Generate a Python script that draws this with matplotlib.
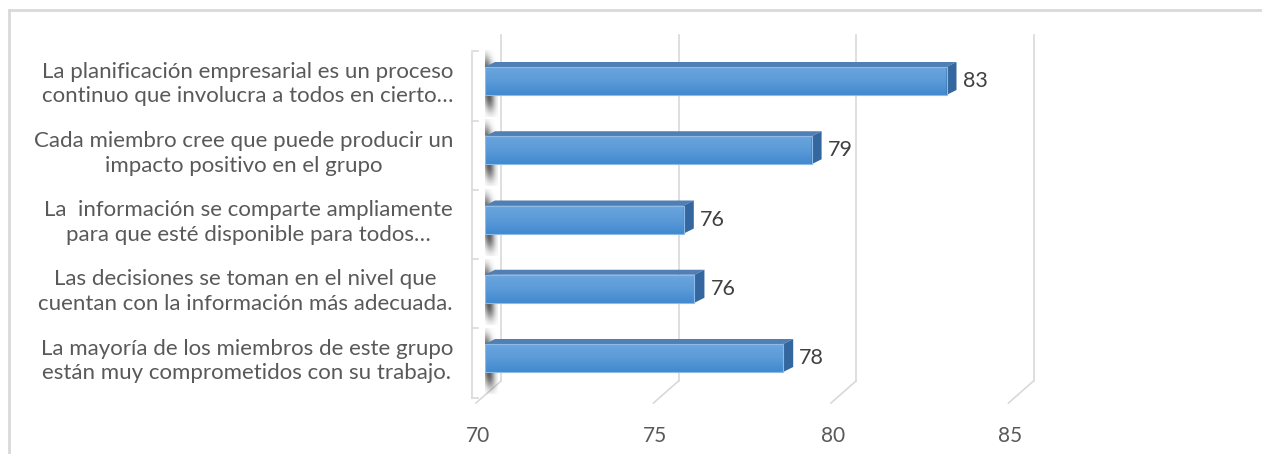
import matplotlib.pyplot as plt
import numpy as np
from matplotlib.patches import Polygon
from matplotlib.colors import LinearSegmentedColormap

categories = [
    "La mayoría de los miembros de este grupo\nestán muy comprometidos con su trabajo.",
    "Las decisiones se toman en el nivel que\ncuentan con la información más adecuada.",
    "La  información se comparte ampliamente\npara que esté disponible para todos…",
    "Cada miembro cree que puede producir un\nimpacto positivo en el grupo",
    "La planificación empresarial es un proceso\ncontinuo que involucra a todos en cierto…",
]
values = [78.4, 75.9, 75.6, 79.2, 83.0]
xticks = [70, 75, 80, 85]

W, H = 1262, 454
fig = plt.figure(figsize=(W / 100, H / 100), dpi=100)
plt.rcParams['font.family'] = ['Lato', 'DejaVu Sans']

# axes placed in pixels: front plane of the bars
left_px, right_px = 485, 485 + 15 * 35.5
top_px, bot_px = 30, 410
ax = fig.add_axes([left_px / W, 1 - bot_px / H, (right_px - left_px) / W, (bot_px - top_px) / H])
# bar centres at 358px (index 0) ... 81px (index 4)
ppy = 69.25
ppx = 35.5
y0 = -(bot_px - 358) / ppy
ax.axis('off')

def dx(p):
    return p / ppx

def dy(p):
    return p / ppy

grid_col = '#d9d9d9'
# back wall gridlines and floor diagonals
for t in xticks:
    xb = t + dx(16)
    ax.plot([xb, xb], [dy(-(381 - 358)), y0 + (bot_px - 35) / ppy], color=grid_col, lw=1.2, zorder=1, clip_on=False)
    ax.plot([xb, t - dx(9)], [dy(-(381 - 358)), dy(-(403 - 358))], color=grid_col, lw=1.2, zorder=1, clip_on=False)
    ax.text(t - dx(7), dy(-(436 - 358)), str(t), ha='center', va='center', fontsize=15, color='#595959')

# left wall front edge with ticks
xa = 70 - dx(13)
ax.plot([xa, xa], [dy(-(398 - 358)), dy(358 - 53)], color=grid_col, lw=1.2, zorder=1, clip_on=False)
for k in range(len(categories) + 1):
    yk = k - 0.5 - dy(5)
    ax.plot([xa, xa + dx(6)], [yk, yk], color=grid_col, lw=1.2, zorder=1, clip_on=False)

# soft shadow texture (slanted blurred band)
gx, gy = np.meshgrid(np.linspace(-1, 1, 40), np.linspace(-1, 1, 80))
band = np.exp(-((gx + 0.3 * gy) / 0.55) ** 2) * np.exp(-(gy / 0.8) ** 4)
shadow_img = np.zeros(band.shape + (4,))
shadow_img[..., :3] = 0.2
shadow_img[..., 3] = 0.85 * band

h = 28 / ppy
ex, ey = dx(10), dy(5)
front_cmap = LinearSegmentedColormap.from_list('b', ['#6aa5de', '#5b9bd8', '#4289cf'])
for i, v in enumerate(values):
    yb, yt = i - h / 2, i + h / 2
    # shadow on left wall
    ax.imshow(shadow_img, extent=[70 - dx(7), 70 + dx(13), yb - dy(22), yt + dy(16)],
              aspect='auto', zorder=2, origin='lower', interpolation='bilinear')
    # front face gradient
    ax.imshow(np.linspace(0, 1, 50).reshape(-1, 1), cmap=front_cmap,
              extent=[70, v, yb, yt], aspect='auto', zorder=3, origin='upper')
    ax.barh(i, v - 70, left=70, height=h, color='none', edgecolor='#8dbbe6', lw=0.8, zorder=4)
    # top face
    ax.add_patch(Polygon([(70, yt), (v, yt), (v + ex, yt + ey), (70 + ex, yt + ey)], closed=True,
                         color='#4f7fb5', lw=0, zorder=3))
    # end face
    ax.add_patch(Polygon([(v, yb), (v, yt), (v + ex, yt + ey), (v + ex, yb + ey)], closed=True,
                         color='#34679f', lw=0, zorder=3))
    ax.text(v + ex + dx(6), i, f"{v:.0f}", ha='left', va='center', fontsize=15.5, color='#404040', zorder=5)
    ax.text(70 - dx(32), i + dy(-3), categories[i], ha='right', va='center', ma='center',
            fontsize=16, color='#595959', linespacing=1.3)

ax.set_xlim(70, 85)
ax.set_ylim(y0, y0 + (bot_px - top_px) / ppy)

# outer border
fig.add_artist(plt.Line2D([9 / W, 9 / W], [0, 1 - 10 / H], color='#d9d9d9', lw=2))
fig.add_artist(plt.Line2D([9 / W, 1], [1 - 10 / H, 1 - 10 / H], color='#d9d9d9', lw=2))

fig.savefig('out.png', dpi=100)
